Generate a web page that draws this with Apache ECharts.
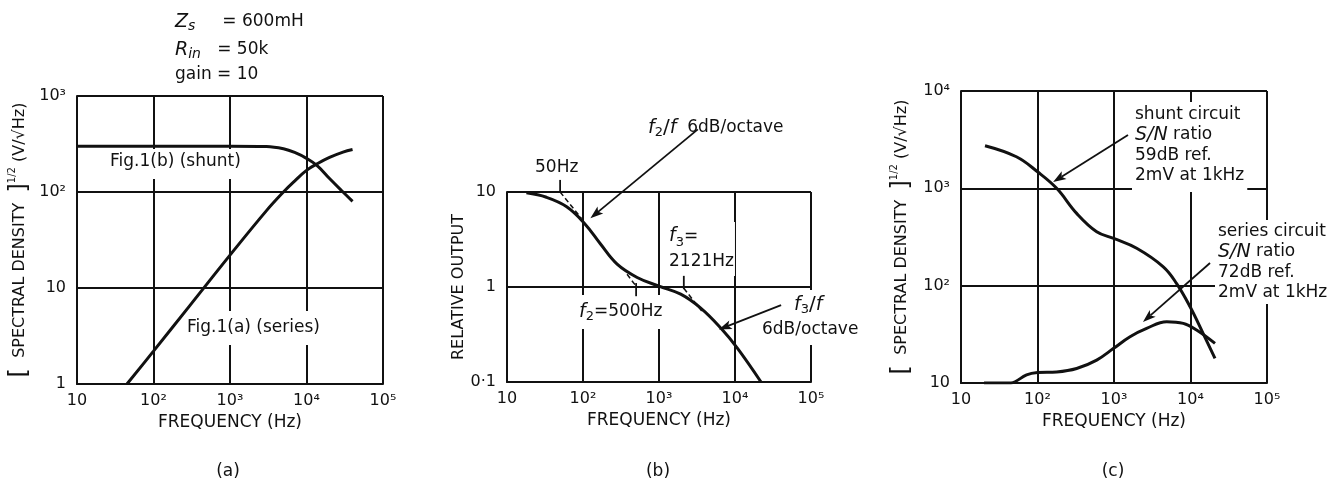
<!DOCTYPE html>
<html><head><meta charset="utf-8">
<script src="https://cdn.jsdelivr.net/npm/echarts@6/dist/echarts.min.js"></script>
<style>html,body{margin:0;padding:0;background:#fff}#c{width:1339px;height:482px}</style>
</head><body><div id="c"></div>
<script>
// ---- tick labels (indexed by decade exponent) ----
const xTickLabels = ['10', '10²', '10³', '10⁴', '10⁵'];          // 10^1 .. 10^5
const yTickLabelsA = ['1', '10', '10²', '10³'];                 // 10^0 .. 10^3
const yTickLabelsB = ['0·1', '1', '10'];                        // 10^-1 .. 10^1
const yTickLabelsC = ['10', '10²', '10³', '10⁴'];               // 10^1 .. 10^4

// ---- panel (a) ----
const shuntA = [[10,300],[100,300],[1000,300],[3000,298],[5000,282],[7000,258],[10000,224],[14000,186],[20000,138],[30000,100],[40000,80]];
const seriesA = [[45,1],[100,2.2],[300,6.6],[1000,22],[3000,64],[5000,100],[7000,130],[10000,168],[14000,198],[20000,229],[30000,260],[40000,277]];

// ---- panel (b) ----
const relOutB = [[18,9.8],[33,8.8],[61,7.0],[104,4.7],[169,2.85],[281,1.74],[516,1.26],[1000,1.02],[1930,0.84],[3540,0.6],[6500,0.37],[10800,0.226],[22000,0.1]];
const asymB1 = [[50,10],[95,5.3]];
const asymB2 = [[380,1.36],[500,1.02]];
const asymB3 = [[2121,0.97],[3700,0.55]];
const markTicksB = [[[50,10],[50,13.4]], [[500,1.1],[500,0.8]], [[2121,1.31],[2121,0.95]]];
const arrowsB = [[[3240,45.6],[125,5.3]], [[40400,0.644],[6120,0.357]]];

// ---- panel (c) ----
const shuntC = [[20.6,2740],[53,2110],[100,1480],[178,1000],[325,553],[594,358],[990,306],[1980,242],[4410,156],[6590,105],[9840,61],[14700,32],[20900,17.9]];
const seriesC = [[20,10],[45,10],[51,10.3],[72,12.1],[100,12.8],[178,13.0],[325,14.1],[594,17.2],[990,22.7],[1620,29.9],[2670,36.4],[4890,42.6],[8050,41],[12000,35],[20900,25.5]];
const arrowsC = [[[1524,3530],[160,1161]], [[18000,171],[2390,42.3]]];

const FONT = 'DejaVu Sans';
const INK = '#111';

function expLabel(arr, minExp) {
  return function (v) {
    const e = Math.round(Math.log10(v));
    const s = arr[e - minExp];
    return s === undefined ? '' : s;
  };
}
function xAxis(gi) {
  return {
    type: 'log', logBase: 10, gridIndex: gi, min: 10, max: 100000,
    name: 'FREQUENCY (Hz)', nameLocation: 'middle', nameGap: 30,
    nameTextStyle: { fontFamily: FONT, fontSize: 17, color: INK },
    axisLine: { show: true, lineStyle: { color: INK, width: 2 } },
    axisTick: { show: false },
    axisLabel: { fontFamily: FONT, fontSize: 16, color: INK, margin: 9, formatter: expLabel(xTickLabels, 1) },
    splitLine: { show: true, lineStyle: { color: INK, width: 2 } },
    minorTick: { show: false }, minorSplitLine: { show: false }
  };
}
function yAxis(gi, min, max, labels, minExp, name, gap) {
  return {
    type: 'log', logBase: 10, gridIndex: gi, min: min, max: max,
    name: name, nameLocation: 'middle', nameGap: gap, nameRotate: 90,
    nameTextStyle: {
      fontFamily: FONT, fontSize: 16, color: INK,
      rich: {
        n: { fontFamily: FONT, fontSize: 16, color: INK, lineHeight: 26 },
        b: { fontFamily: FONT, fontSize: 24, color: INK, lineHeight: 26 },
        s: { fontFamily: FONT, fontSize: 10, color: INK, verticalAlign: 'top', lineHeight: 10 }
      }
    },
    axisLine: { show: true, lineStyle: { color: INK, width: 2 } },
    axisTick: { show: false },
    axisLabel: { fontFamily: FONT, fontSize: 16, color: INK, margin: 11, formatter: expLabel(labels, minExp) },
    splitLine: { show: true, lineStyle: { color: INK, width: 2 } }
  };
}
function curve(gi, data) {
  return {
    type: 'line', xAxisIndex: gi, yAxisIndex: gi, data: data, showSymbol: false, symbol: 'none',
    smooth: 0.4, clip: true,
    lineStyle: { color: INK, width: 3 }, z: 5, silent: true
  };
}
function dashed(gi, data) {
  return {
    type: 'line', xAxisIndex: gi, yAxisIndex: gi, data: data, showSymbol: false, symbol: 'none',
    lineStyle: { color: INK, width: 1.5, type: [5, 3] }, z: 4, silent: true
  };
}

const specName = '{b|[}  {n|SPECTRAL DENSITY}  {b|]}{s|1/2}{n| (V/√Hz)}';

const chart = echarts.init(document.getElementById('c'), null, { renderer: 'canvas' });
chart.setOption({
  backgroundColor: '#fff',
  animation: false,
  grid: [
    { left: 77, top: 96, width: 306, height: 288 },
    { left: 507, top: 192, width: 304, height: 190 },
    { left: 961, top: 91, width: 306, height: 292 }
  ],
  xAxis: [xAxis(0), xAxis(1), xAxis(2)],
  yAxis: [
    yAxis(0, 1, 1000, yTickLabelsA, 0, specName, 44),
    yAxis(1, 0.1, 10, yTickLabelsB, -1, 'RELATIVE OUTPUT', 40),
    yAxis(2, 10, 10000, yTickLabelsC, 1, specName, 46)
  ],
  series: [
    curve(0, shuntA), curve(0, seriesA),
    curve(1, relOutB), dashed(1, asymB1), dashed(1, asymB2), dashed(1, asymB3),
    curve(2, shuntC), curve(2, seriesC)
  ]
});

// ---- annotations ----
const g = [];
const rich = {
  n: { fontFamily: FONT, fontSize: 17, color: INK },
  i: { fontFamily: FONT, fontSize: 19, fontStyle: 'italic', color: INK },
  sub: { fontFamily: FONT, fontSize: 13, fontStyle: 'normal', color: INK, verticalAlign: 'bottom', lineHeight: 14 },
  isub: { fontFamily: FONT, fontSize: 14, fontStyle: 'italic', color: INK, verticalAlign: 'bottom', lineHeight: 14 },
  big: { fontFamily: FONT, fontSize: 20, color: INK }
};
function txt(x, y, text, opt) {
  opt = opt || {};
  const style = {
    x: x, y: y, text: text, fill: INK, font: '17px "' + FONT + '"',
    rich: rich, align: opt.align || 'left', verticalAlign: opt.va || 'middle',
    lineHeight: opt.lh || 22
  };
  if (opt.bg) { style.backgroundColor = '#fff'; style.padding = opt.pad || [3, 4]; }
  // z 3: above the grid lines (z 0), below the curves (z 5)
  g.push({ type: 'text', z: 3, silent: true, style: style });
}
function px(gi, p) { return chart.convertToPixel({ gridIndex: gi }, p); }
function seg(gi, a, b, w) {
  const p = px(gi, a), q = px(gi, b);
  g.push({ type: 'line', z: 90, silent: true, shape: { x1: p[0], y1: p[1], x2: q[0], y2: q[1] }, style: { stroke: INK, lineWidth: w || 1.5 } });
}
function arrow(gi, a, b) {
  const p = px(gi, a), q = px(gi, b);
  const dx = q[0] - p[0], dy = q[1] - p[1], L = Math.hypot(dx, dy);
  const ux = dx / L, uy = dy / L, hl = 13, hw = 4.5;
  const bx = q[0] - ux * hl, by = q[1] - uy * hl;
  g.push({ type: 'line', z: 90, silent: true, shape: { x1: p[0], y1: p[1], x2: bx + ux * 3, y2: by + uy * 3 }, style: { stroke: INK, lineWidth: 1.8 } });
  g.push({ type: 'polygon', z: 90, silent: true, shape: { points: [[q[0], q[1]], [bx - uy * hw, by + ux * hw], [bx + ux * 3, by + uy * 3], [bx + uy * hw, by - ux * hw]] }, style: { fill: INK } });
}

// panel (a) texts
txt(175, 22, '{i|Z}{isub|s}{n|     = 600mH}');
txt(175, 50, '{i|R}{isub|in}{n|   = 50k}');
txt(175, 75, '{n|gain = 10}');
txt(107, 164, '{n|Fig.1(b) (shunt)}', { bg: true, pad: [2, 3, 6, 3] });
txt(184, 328, '{n|Fig.1(a) (series)}', { bg: true, pad: [6, 3] });

// panel (b)
markTicksB.forEach(t => seg(1, t[0], t[1], 1.8));
arrowsB.forEach(a => arrow(1, a[0], a[1]));
txt(648, 128, '{i|f}{sub|2}{big|/}{i|f}{n|  6dB/octave}');
txt(535, 168, '{n|50Hz}');
txt(668, 249, '{i|f}{sub|3}{n|=}\n{n|2121Hz}', { bg: true, pad: [2, 1], lh: 25 });
txt(577, 312, '{i|f}{sub|2}{n|=500Hz}', { bg: true, pad: [6, 2] });
txt(792, 305, '{i|f}{sub|3}{big|/}{i|f}', { bg: true, pad: [4, 2] });
txt(760, 330, '{n|6dB/octave}', { bg: true, pad: [4, 2] });

// panel (c)
arrowsC.forEach(a => arrow(2, a[0], a[1]));
txt(1132, 102, '{n|shunt circuit}\n{i|S/N}{n| ratio}\n{n|59dB ref.}\n{n|2mV at 1kHz}', { bg: true, va: 'top', lh: 20.5, pad: [2, 3, 6, 3] });
txt(1215, 220, '{n|series circuit}\n{i|S/N}{n| ratio}\n{n|72dB ref.}\n{n|2mV at 1kHz}', { bg: true, va: 'top', lh: 20.5, pad: [1, 3, 1, 3] });

// captions
txt(228, 472, '{n|(a)}', { align: 'center' });
txt(658, 472, '{n|(b)}', { align: 'center' });
txt(1113, 472, '{n|(c)}', { align: 'center' });

chart.setOption({ graphic: { elements: g } });
</script>
</body></html>
